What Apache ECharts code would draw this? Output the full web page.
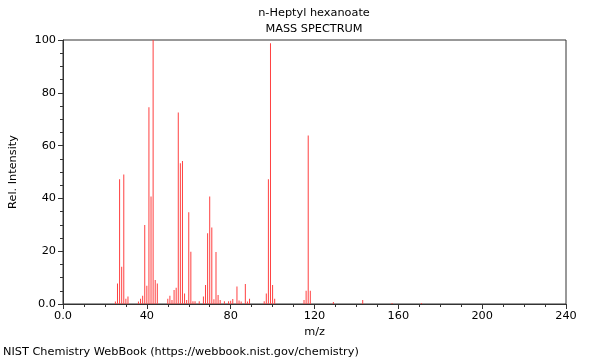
<!DOCTYPE html>
<html><head><meta charset="utf-8">
<script src="https://cdn.jsdelivr.net/npm/echarts@6/dist/echarts.min.js"></script>
<style>html,body{margin:0;padding:0;background:#fff}#c{width:600px;height:360px}</style>
</head><body><div id="c"></div>
<script>
const titleText = "n-Heptyl hexanoate";
const subtitleText = "MASS SPECTRUM";
const footerText = "NIST Chemistry WebBook (https://webbook.nist.gov/chemistry)";
const xAxisName = "m/z";
const yAxisName = "Rel. Intensity";
const mz = [25,26,27,28,29,30,31,36,37,38,39,40,41,42,43,44,45,50,51,52,53,54,55,56,57,58,59,60,61,62,63,65,67,68,69,70,71,72,73,74,75,77,79,80,81,83,84,85,87,88,89,96,97,98,99,100,101,115,116,117,118,129,143,157,171];
const intensity = [0.9,7.8,47.3,14.1,49.1,2.0,2.8,0.9,2.0,3.1,29.9,6.9,74.5,40.7,100,9.1,7.8,2.0,3.1,1.5,5.3,6.2,72.5,53.3,54.2,4.0,1.5,34.8,19.8,1.0,1.0,1.0,2.8,7.2,26.8,40.7,29.0,1.8,19.7,3.4,1.5,1.0,1.0,1.2,1.9,6.6,1.3,0.9,7.6,0.9,2.0,1.0,4.0,47.3,98.8,7.2,2.0,1.5,5.0,63.8,5.0,0.8,1.5,0.4,0.4];
const xMin = 0, xMax = 240, xStep = 40;
const yMin = 0, yMax = 100, yStep = 20;

const data = mz.map((m, i) => [m, intensity[i]]);
const font = "DejaVu Sans";
const txt = {fontFamily: font, fontSize: 11.3, fontWeight: 'normal', color: '#000'};
const chart = echarts.init(document.getElementById('c'), null, {renderer: 'canvas'});
chart.setOption({
  animation: false,
  textStyle: {fontFamily: font},
  title: [
    {text: titleText, left: 314, top: 8, padding: 0, textAlign: 'center', textStyle: txt},
    {text: subtitleText, left: 314, top: 24, padding: 0, textAlign: 'center', textStyle: txt},
    {text: footerText, left: 3, top: 347, padding: 0, textStyle: txt}
  ],
  grid: {left: 62, right: 34, top: 40, bottom: 56, show: true, borderColor: '#333', borderWidth: 1, backgroundColor: 'transparent'},
  xAxis: {
    type: 'value', min: xMin, max: xMax, interval: xStep,
    name: xAxisName, nameLocation: 'middle', nameGap: 23,
    nameTextStyle: {fontFamily: font, fontSize: 11.3, color: '#000'},
    axisLine: {show: true, onZero: false, lineStyle: {color: '#333', width: 1}},
    axisTick: {show: true, inside: false, length: 5, lineStyle: {color: '#333'}},
    minorTick: {show: true, splitNumber: 4, length: 3, lineStyle: {color: '#333'}},
    splitLine: {show: false},
    axisLabel: {fontFamily: font, fontSize: 11.3, color: '#000', margin: 7, formatter: v => v === 0 ? '0.0' : String(v)}
  },
  yAxis: {
    type: 'value', min: yMin, max: yMax, interval: yStep,
    name: yAxisName, nameLocation: 'middle', nameGap: 44, nameRotate: 90,
    nameTextStyle: {fontFamily: font, fontSize: 11.3, color: '#000'},
    axisLine: {show: true, onZero: false, lineStyle: {color: '#333', width: 1}},
    axisTick: {show: true, inside: false, length: 5, lineStyle: {color: '#333'}},
    minorTick: {show: true, splitNumber: 4, length: 3, lineStyle: {color: '#333'}},
    splitLine: {show: false},
    axisLabel: {fontFamily: font, fontSize: 11.3, color: '#000', margin: 7, formatter: v => v === 0 ? '0.0' : String(v)}
  },
  series: [{
    type: 'bar',
    data: data,
    barWidth: 1,
    barGap: '-100%',
    itemStyle: {color: '#ff4040'},
    silent: true
  }]
});
</script></body></html>
